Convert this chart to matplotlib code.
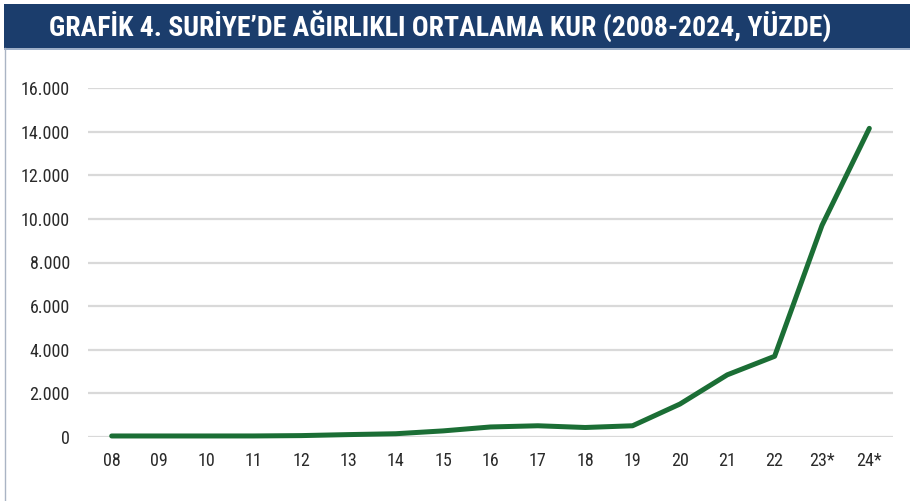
import matplotlib.pyplot as plt
from matplotlib.patches import Rectangle
from matplotlib.lines import Line2D
from matplotlib.ticker import FuncFormatter

years = ["08", "09", "10", "11", "12", "13", "14", "15", "16", "17", "18", "19", "20", "21", "22", "23*", "24*"]
rate = [47, 47, 47, 48, 64, 110, 150, 280, 460, 515, 436, 515, 1510, 2850, 3700, 9700, 14150]
yticks = [0, 2000, 4000, 6000, 8000, 10000, 12000, 14000, 16000]

fam = ["Roboto Condensed", "Roboto", "DejaVu Sans"]

fig = plt.figure(figsize=(9.1, 5.01), dpi=100)
fig.patch.set_facecolor("white")

# title bar
fig.patches.append(Rectangle((4 / 910, 1 - 48 / 501), 1, 44 / 501, transform=fig.transFigure,
                             facecolor="#1b3d6c", edgecolor="none"))
fig.patches.append(Rectangle((4 / 910, 1 - 50 / 501), 1, 2 / 501, transform=fig.transFigure,
                             facecolor="#9fb0c8", edgecolor="none"))
fig.lines.append(Line2D([5 / 910, 5 / 910], [0, 1 - 48 / 501], transform=fig.transFigure,
                        color="#aab4c4", lw=1))
fig.text(440 / 910, 1 - 26 / 501, "GRAFİK 4. SURİYE’DE AĞIRLIKLI ORTALAMA KUR (2008-2024, YÜZDE)",
         color="white", fontsize=20, fontweight="bold", family=fam, ha="center", va="center")

ax = fig.add_axes([88 / 910, 1 - 437 / 501, (893 - 88) / 910, (437 - 88) / 501])
x = list(range(len(years)))
ax.plot(x, rate, color="#1b6e35", lw=3.6, solid_capstyle="round", solid_joinstyle="round",
        clip_on=False, zorder=3)

ax.set_xlim(-0.5, len(years) - 0.5)
ax.set_ylim(0, 16000)
ax.set_yticks(yticks)
ax.yaxis.set_major_formatter(FuncFormatter(lambda v, p: f"{int(v):,}".replace(",", ".")))
ax.set_xticks(x)
ax.set_xticklabels(years)
ax.grid(axis="y", color="#d9d9d9", lw=1.6)
ax.set_axisbelow(True)
for s in ax.spines.values():
    s.set_visible(False)
ax.tick_params(length=0, labelsize=13, colors="#2a2a2a")
ax.tick_params(axis="y", pad=13)
ax.tick_params(axis="x", pad=11)
for lab in ax.get_xticklabels() + ax.get_yticklabels():
    lab.set_family(fam)

fig.savefig("out.png", dpi=100)
